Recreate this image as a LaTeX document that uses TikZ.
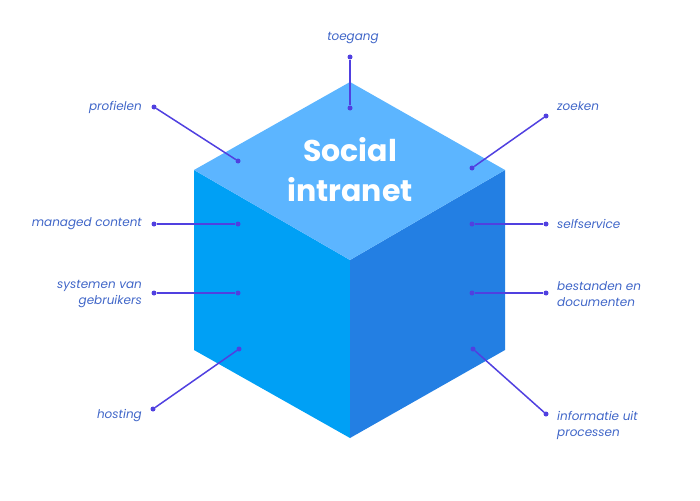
\documentclass[tikz,border=0pt]{standalone}
\usepackage{fontspec}
\setmainfont{Poppins}
\usetikzlibrary{positioning}
\definecolor{topface}{HTML}{5CB5FF}
\definecolor{leftface}{HTML}{00A0F5}
\definecolor{rightface}{HTML}{237FE3}
\definecolor{wire}{HTML}{5040E0}
\definecolor{labelblue}{HTML}{4066C8}

\begin{document}
\begin{tikzpicture}[x=1pt, y=-1pt, line join=round,
    wire/.style={draw=wire, line width=1.5pt},
    dot/.style={circle, fill=wire, inner sep=0pt, minimum size=5pt},
    lbl/.style={text=labelblue, font=\itshape\fontsize{12}{16}\selectfont, inner sep=0pt},
    lblL/.style={lbl, anchor=east, align=right},
    lblR/.style={lbl, anchor=west, align=left}]
    \useasboundingbox (0,0) rectangle (700,500);

    % hoekpunten van de kubus
    \coordinate (T) at (350,82);
    \coordinate (L) at (194,170);
    \coordinate (R) at (505,170);
    \coordinate (M) at (350,260);
    \coordinate (B) at (350,438);
    \coordinate (LB) at (194,350);
    \coordinate (RB) at (505,350);

    % vlakken
    \fill[leftface] (L) -- (M) -- (B) -- (LB) -- cycle;
    \fill[rightface] (M) -- (R) -- (RB) -- (B) -- cycle;
    \fill[topface] (T) -- (R) -- (M) -- (L) -- cycle;

    \node[text=white, font=\bfseries\fontsize{30}{40}\selectfont, align=center] (title) at (350,170) {Social\\intranet};

    % punten op de kubus
    \node[dot] (toegangIn) at (350,108) {};
    \node[dot] (profielenIn) at (238,161) {};
    \node[dot] (zoekenIn) at (472,168) {};
    \node[dot] (managedIn) at (238,224) {};
    \node[dot] (selfIn) at (472,224) {};
    \node[dot] (systemenIn) at (238,293) {};
    \node[dot] (bestandenIn) at (472,293) {};
    \node[dot] (hostingIn) at (239,349) {};
    \node[dot] (informatieIn) at (473,349) {};

    % punten buiten
    \node[dot] (toegangOut) at (350,57) {};
    \node[dot] (profielenOut) at (154,107) {};
    \node[dot] (zoekenOut) at (546,116) {};
    \node[dot] (managedOut) at (154,224) {};
    \node[dot] (selfOut) at (546,224) {};
    \node[dot] (systemenOut) at (154,293) {};
    \node[dot] (bestandenOut) at (546,293) {};
    \node[dot] (hostingOut) at (153,409) {};
    \node[dot] (informatieOut) at (546,414) {};

    % lijnen
    \draw[wire] (toegangOut) -- (toegangIn);
    \draw[wire] (profielenOut) -- (profielenIn);
    \draw[wire] (zoekenOut) -- (zoekenIn);
    \draw[wire] (managedOut) -- (managedIn);
    \draw[wire] (selfOut) -- (selfIn);
    \draw[wire] (systemenOut) -- (systemenIn);
    \draw[wire] (bestandenOut) -- (bestandenIn);
    \draw[wire] (hostingOut) -- (hostingIn);
    \draw[wire] (informatieOut) -- (informatieIn);

    % teksten
    \node[lbl] (toegang) at (353,38) {toegang};
    \node[lblL] (profielen) at (142,107) {profielen};
    \node[lblR] (zoeken) at (557,106) {zoeken};
    \node[lblL] (managed) at (142,224) {managed content};
    \node[lblR] (self) at (557,224) {selfservice};
    \node[lblL] (systemen) at (142,294) {systemen van\\gebruikers};
    \node[lblR] (bestanden) at (557,294) {bestanden en\\documenten};
    \node[lblL] (hosting) at (142,416) {hosting};
    \node[lblR] (informatie) at (557,425) {informatie uit\\processen};
\end{tikzpicture}
\end{document}
